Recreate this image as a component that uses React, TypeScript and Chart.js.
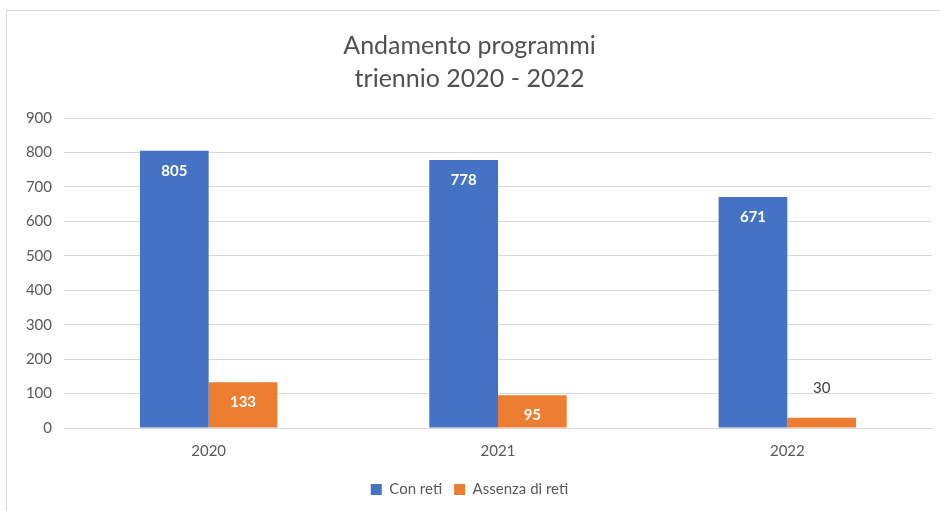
import React, { useEffect, useRef } from "react";
import { Chart, registerables } from "chart.js";

Chart.register(...registerables);

const categories = ["2020", "2021", "2022"];
const conReti = [805, 778, 671];
const assenzaReti = [133, 95, 30];
const seriesNames = ["Con reti", "Assenza di reti"];
const titleLines = ["Andamento programmi", "triennio 2020 - 2022"];
const yTicks = [0, 100, 200, 300, 400, 500, 600, 700, 800, 900];

const FONT = "Lato, 'Open Sans', sans-serif";
const TEXT = "#595959";

const labelPlugin = {
  id: "barLabels",
  afterDatasetsDraw(chart: any) {
    const ctx = chart.ctx;
    ctx.save();
    ctx.textAlign = "center";
    ctx.textBaseline = "middle";
    chart.data.datasets.forEach((ds: any, di: number) => {
      const meta = chart.getDatasetMeta(di);
      meta.data.forEach((bar: any, i: number) => {
        const v = ds.data[i];
        const h = bar.base - bar.y;
        if (h > 25) {
          ctx.font = `bold 15px ${FONT}`;
          ctx.fillStyle = "#ffffff";
          ctx.fillText(String(v), bar.x, bar.y + 20);
        } else {
          ctx.font = `15px ${FONT}`;
          ctx.fillStyle = "#404040";
          ctx.fillText(String(v), bar.x, bar.y - 30);
        }
      });
    });
    ctx.restore();
  },
};

export default function App() {
  const ref = useRef<HTMLCanvasElement | null>(null);
  useEffect(() => {
    if (!ref.current) return;
    const chart = new Chart(ref.current, {
      type: "bar",
      data: {
        labels: categories,
        datasets: [
          {
            label: seriesNames[0],
            data: conReti,
            backgroundColor: "#4472C4",
            categoryPercentage: 0.475,
            barPercentage: 1,
          },
          {
            label: seriesNames[1],
            data: assenzaReti,
            backgroundColor: "#ED7D31",
            categoryPercentage: 0.475,
            barPercentage: 1,
          },
        ],
      },
      options: {
        animation: false,
        responsive: false,
        layout: { padding: { top: 0, right: 8, bottom: 4, left: 0 } },
        plugins: {
          title: {
            display: true,
            text: titleLines,
            color: "#505050",
            font: { family: FONT, size: 25, weight: "normal", lineHeight: 1.32 },
            padding: { top: 18, bottom: 23 },
          },
          legend: {
            position: "bottom",
            labels: {
              color: TEXT,
              font: { family: FONT, size: 15 },
              boxWidth: 11,
              boxHeight: 11,
              padding: 12,
            },
          },
          tooltip: { enabled: false },
        },
        scales: {
          x: {
            grid: { display: false, drawTicks: false },
            border: { display: true, color: "#d9d9d9" },
            ticks: { color: TEXT, font: { family: FONT, size: 15 }, padding: 14 },
            afterFit(scale: any) {
              scale.height = 42;
            },
          },
          y: {
            min: 0,
            max: 900,
            afterBuildTicks(scale: any) {
              scale.ticks = yTicks.map((v) => ({ value: v }));
            },
            grid: { color: "#d9d9d9", drawTicks: false },
            border: { display: false },
            ticks: { color: TEXT, font: { family: FONT, size: 15 }, padding: 12 },
            afterFit(scale: any) {
              scale.width = 57;
            },
          },
        },
      },
      plugins: [labelPlugin],
    } as any);
    return () => chart.destroy();
  }, []);

  return (
    <div
      style={{
        position: "fixed",
        left: 0,
        top: 0,
        width: 940,
        height: 511,
        overflow: "hidden",
        background: "#ffffff",
      }}
    >
      <div
        style={{
          position: "absolute",
          left: 6,
          top: 10,
          width: 960,
          height: 520,
          borderLeft: "1.5px solid #d9d9d9",
          borderTop: "1.5px solid #d9d9d9",
        }}
      >
        <canvas ref={ref} width={933} height={500} style={{ display: "block" }} />
      </div>
    </div>
  );
}
